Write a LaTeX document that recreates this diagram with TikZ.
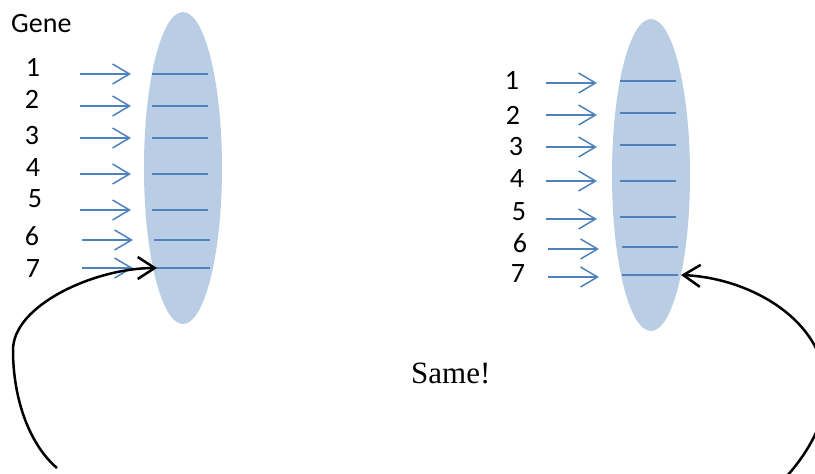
\documentclass[tikz,border=0pt]{standalone}
\usepackage{fontspec}
\setmainfont{Liberation Serif}
\newfontfamily\calibri{Carlito}
\usetikzlibrary{arrows.meta, shapes.geometric}
\definecolor{gblue}{HTML}{4F81BD}
\definecolor{gfill}{HTML}{B9CDE5}

\begin{document}
\begin{tikzpicture}[x=1pt, y=-1pt,
  num/.style={font=\calibri\fontsize{28}{32}\selectfont, inner sep=0pt},
  chrom/.style={ellipse, fill=gfill, minimum width=78pt, minimum height=312pt, inner sep=0pt},
  gene/.style={draw=gblue, line width=1.9pt},
  feed/.style={draw=gblue, line width=1.5pt, -{Straight Barb[length=17pt,width=20pt]}},
  link/.style={draw=black, line width=2.5pt, -{Straight Barb[length=17pt,width=22pt]}}]
\useasboundingbox (0,0) rectangle (815,474);

\node[chrom] (chrA) at (183,168) {};
\node[chrom] (chrB) at (651,175) {};
\node[num, anchor=base west] (title) at (11,32) {Gene};

% left chromosome
\foreach \n/\tx/\ty/\y/\d in {1/33/67/74/0, 2/32/99/106/0, 3/32/136/138/0, 4/33/168/174/0,
                              5/35/199/210/0, 6/32/236/240/2, 7/33/269/268/2}{
  \node[num] (a\n) at (\tx,\ty) {\n};
  \coordinate (fa\n) at (80+\d,\y);
  \coordinate (ta\n) at (131+\d,\y);
  \coordinate (la\n) at (152+\d,\y);
  \coordinate (ra\n) at (208+\d,\y);
  \draw[feed] (fa\n) -- (ta\n);
  \draw[gene] (la\n) -- (ra\n);
}

% right chromosome
\foreach \n/\tx/\ty/\y/\z/\d in {1/512/80/83/81/0, 2/513/115/115/113/0, 3/516/147/147/145/0,
                                 4/517/179/181/181/0, 5/519/212/219/217/0, 6/520/243/249/247/2,
                                 7/518/274/277/275/2}{
  \node[num] (b\n) at (\tx,\ty) {\n};
  \coordinate (fb\n) at (546+\d,\y);
  \coordinate (tb\n) at (597+\d,\y);
  \coordinate (lb\n) at (620+\d,\z);
  \coordinate (rb\n) at (676+\d,\z);
  \draw[feed] (fb\n) -- (tb\n);
  \draw[gene] (lb\n) -- (rb\n);
}

\node[anchor=base west, inner sep=0pt, font=\fontsize{31}{36}\selectfont] (same) at (411,383) {Same!};

% the two loops
\coordinate (endA) at (57,468);
\coordinate (endB) at (787,476);
\draw[link] (endA) .. controls (30,445) and (13,400) .. (13,350)
            .. controls (13,305) and (95,268) .. ([xshift=3pt]la7);
\draw[link] (endB) .. controls (810,450) and (826,420) .. (826,390)
            .. controls (826,320) and (750,278) .. ([xshift=3pt]rb7);
\end{tikzpicture}
\end{document}
